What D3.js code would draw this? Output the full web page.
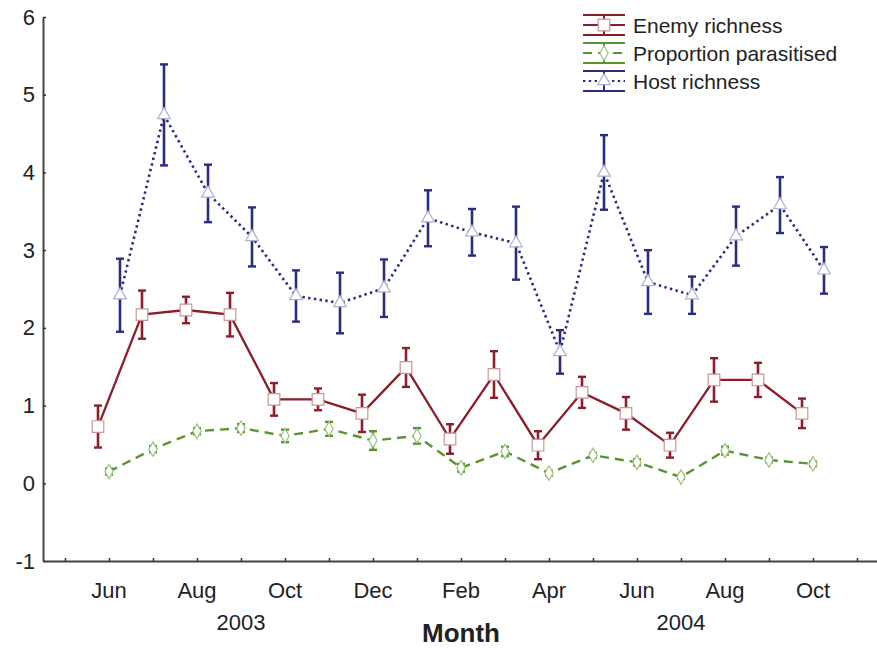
<!DOCTYPE html>
<html><head><meta charset="utf-8">
<script src="https://cdnjs.cloudflare.com/ajax/libs/d3/7.8.5/d3.min.js"></script>
<style>body{margin:0;background:#fff}svg{display:block;font-family:"Liberation Sans",Arial,sans-serif}</style>
</head><body><svg id="c" width="877" height="650"></svg>
<script>
// Month index 0 = May 2003 ... 18 = Nov 2004; samples at indices 1..17
const sampleIdx = [1,2,3,4,5,6,7,8,9,10,11,12,13,14,15,16,17];
const tickIdx = [0,1,2,3,4,5,6,7,8,9,10,11,12,13,14,15,16,17,18];
const labelIdx = [1,3,5,7,9,11,13,15,17];
const tickLabels = ["Jun","Aug","Oct","Dec","Feb","Apr","Jun","Aug","Oct"];
const yearLabels = ["2003","2004"];
const yearIdx = [4,14];
const yTicks = [-1,0,1,2,3,4,5,6];

const enemyMean = [0.73,2.17,2.23,2.17,1.08,1.08,0.90,1.49,0.57,1.40,0.49,1.17,0.90,0.49,1.33,1.33,0.90];
const enemySE   = [0.27,0.31,0.17,0.28,0.21,0.14,0.24,0.25,0.19,0.30,0.18,0.20,0.21,0.16,0.28,0.22,0.19];
const parMean   = [0.15,0.44,0.67,0.71,0.61,0.70,0.55,0.61,0.20,0.41,0.13,0.36,0.27,0.08,0.42,0.30,0.25];
const parSE     = [0.04,0.04,0.04,0.05,0.08,0.09,0.12,0.10,0.05,0.06,0.03,0.03,0.04,0.02,0.05,0.03,0.03];
const hostMean  = [2.42,4.74,3.73,3.17,2.41,2.32,2.51,3.41,3.23,3.09,1.69,4.00,2.59,2.42,3.18,3.58,2.74];
const hostSE    = [0.47,0.65,0.37,0.38,0.33,0.39,0.37,0.36,0.30,0.47,0.28,0.48,0.41,0.24,0.38,0.36,0.30];

const seriesNames = ["Enemy richness","Proportion parasitised","Host richness"];

const svg = d3.select("#c");
const x = d3.scaleLinear().domain([-0.5,18.5]).range([43,879]);
const y = d3.scaleLinear().domain([-1,6]).range([561,17]);

const series = [
  {name:seriesNames[0], mean:enemyMean, se:enemySE, off:-0.25, color:"#8c1d2b", dash:null, width:2.3,
   sym:d3.symbolSquare, size:135, mstroke:"#c9959b", cap:4},
  {name:seriesNames[1], mean:parMean, se:parSE, off:0, color:"#5a9431", dash:"9,6", width:2.4,
   sym:d3.symbolDiamond, size:60, mstroke:"#9cc47e", cap:4},
  {name:seriesNames[2], mean:hostMean, se:hostSE, off:0.25, color:"#2a2c80", dash:"2.4,3.4", width:2.6,
   sym:d3.symbolTriangle, size:70, mstroke:"#aeb2d2", cap:4}
];

// axes
const yAxis = d3.axisLeft(y).tickValues(yTicks).tickSize(-3).tickSizeOuter(0).tickPadding(8)
  .tickFormat(d => d < 0 ? "-" + Math.abs(d) : String(d));
const gy = svg.append("g").attr("transform","translate(43,0)").call(yAxis);
gy.selectAll("text").attr("font-size",22).attr("fill","#222").attr("font-family","Liberation Sans, Arial, sans-serif");
gy.selectAll("line").attr("stroke","#333").attr("stroke-width",1.5);
gy.select(".domain").attr("stroke","#444").attr("stroke-width",2);

const xAxis = d3.axisBottom(x).tickValues(tickIdx).tickSize(-3).tickSizeOuter(0).tickFormat("");
const gx = svg.append("g").attr("transform","translate(0,561)").call(xAxis);
gx.selectAll("line").attr("stroke","#333").attr("stroke-width",1.5);
gx.select(".domain").attr("stroke","#444").attr("stroke-width",2);

svg.append("g").selectAll("text").data(labelIdx).join("text")
  .attr("x", d => x(d)).attr("y", 598).attr("text-anchor","middle")
  .attr("font-size",22).attr("fill","#222").text((d,i) => tickLabels[i]);
svg.append("g").selectAll("text").data(yearIdx).join("text")
  .attr("x", d => x(d)).attr("y", 630).attr("text-anchor","middle")
  .attr("font-size",22).attr("fill","#222").text((d,i) => yearLabels[i]);
svg.append("text").attr("x", x(9)).attr("y", 642).attr("text-anchor","middle")
  .attr("font-size",26).attr("font-weight","bold").attr("fill","#222").text("Month");

// series
series.forEach(s => {
  const pts = sampleIdx.map((m,i) => ({xv:m + s.off, v:s.mean[i], e:s.se[i]}));
  const g = svg.append("g");
  const line = d3.line().x(d => x(d.xv)).y(d => y(d.v));
  g.append("path").datum(pts).attr("d", line).attr("fill","none")
    .attr("stroke", s.color).attr("stroke-width", s.width)
    .attr("stroke-dasharray", s.dash);
  const eb = g.append("g").selectAll("g").data(pts).join("g");
  eb.append("line").attr("x1", d => x(d.xv)).attr("x2", d => x(d.xv))
    .attr("y1", d => y(d.v + d.e)).attr("y2", d => y(d.v - d.e))
    .attr("stroke", s.color).attr("stroke-width", 2.6);
  [1,-1].forEach(sg => {
    eb.append("line").attr("x1", d => x(d.xv) - s.cap).attr("x2", d => x(d.xv) + s.cap)
      .attr("y1", d => y(d.v + sg*d.e)).attr("y2", d => y(d.v + sg*d.e))
      .attr("stroke", s.color).attr("stroke-width", 2.4);
  });
  g.append("g").selectAll("path").data(pts).join("path")
    .attr("d", d3.symbol().type(s.sym).size(s.size))
    .attr("transform", d => `translate(${x(d.xv)},${y(d.v)})`)
    .attr("fill","#fff").attr("stroke", s.mstroke).attr("stroke-width",1.2);
});

// legend
const lg = svg.append("g");
const lx0 = 583, lx1 = 625, lxm = 604;
const legY = [25, 53, 81];
series.forEach((s,i) => {
  const cy = legY[i];
  const g = lg.append("g");
  g.append("line").attr("x1",lx0).attr("x2",lx1).attr("y1",cy-10).attr("y2",cy-10).attr("stroke",s.color).attr("stroke-width",2);
  g.append("line").attr("x1",lx0).attr("x2",lx1).attr("y1",cy+10).attr("y2",cy+10).attr("stroke",s.color).attr("stroke-width",2);
  g.append("line").attr("x1",lxm).attr("x2",lxm).attr("y1",cy-10).attr("y2",cy+10).attr("stroke",s.color).attr("stroke-width",2);
  g.append("line").attr("x1",lx0).attr("x2",lx1).attr("y1",cy).attr("y2",cy).attr("stroke",s.color)
    .attr("stroke-width",2).attr("stroke-dasharray", s.dash);
  g.append("path").attr("d", d3.symbol().type(s.sym).size(s.size)).attr("transform",`translate(${lxm},${cy})`)
    .attr("fill","#fff").attr("stroke", s.mstroke).attr("stroke-width",1.2);
  g.append("text").attr("x",633).attr("y",cy+8).attr("font-size",21).attr("fill","#222").text(s.name);
});
</script></body></html>
